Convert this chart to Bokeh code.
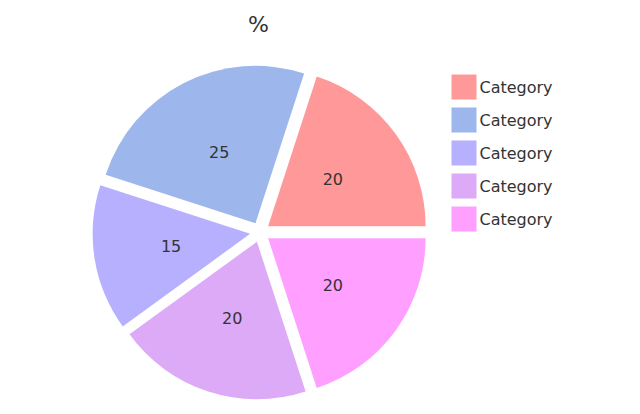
import math
from bokeh.plotting import figure
from bokeh.models import ColumnDataSource, Range1d
from bokeh.core.properties import value
from bokeh.embed import file_html
from bokeh.resources import INLINE

title_text = "%"
categories = ["Category", "Category", "Category", "Category", "Category"]
values = [20, 25, 15, 20, 20]
colors = ["#ff9999", "#9db7ec", "#b6b0ff", "#dcaaf7", "#ff9fff"]

W, H = 632, 406
cx, cy, R = 259.5, H - 231.75, 157.5
explode = 10
label_r = 90

total = sum(values)
starts, ends, xs, ys, lx, ly = [], [], [], [], [], []
acc = 0.0
for v in values:
    a0 = 2 * math.pi * acc / total
    acc += v
    a1 = 2 * math.pi * acc / total
    mid = (a0 + a1) / 2
    starts.append(a0)
    ends.append(a1)
    xs.append(cx + explode * math.cos(mid))
    ys.append(cy + explode * math.sin(mid))
    lx.append(cx + label_r * math.cos(mid))
    ly.append(cy + label_r * math.sin(mid))

src = ColumnDataSource(dict(x=xs, y=ys, start=starts, end=ends, color=colors,
                            lx=lx, ly=ly, label=[str(v) for v in values]))

p = figure(width=W, height=H, output_backend="svg", toolbar_location=None,
           x_range=Range1d(0, W), y_range=Range1d(0, H), min_border=0,
           x_axis_location=None, y_axis_location=None)
p.grid.visible = False
p.outline_line_color = None
p.background_fill_color = "white"

p.wedge(x="x", y="y", radius=R, start_angle="start", end_angle="end",
        direction="anticlock", fill_color="color", line_color=None, source=src)
p.text(x="lx", y="ly", text="label", source=src, text_align="center",
       text_baseline="middle", text_font=value("DejaVu Sans"),
       text_font_size="16px", text_color="#333333")

# legend
leg_x = 463.5
leg_y0 = H - 86.5
step = 33
ly_leg = [leg_y0 - i * step for i in range(len(categories))]
leg = ColumnDataSource(dict(x=[leg_x] * len(categories), y=ly_leg,
                            tx=[leg_x + 15.5] * len(categories),
                            color=colors, label=categories))
p.rect(x="x", y="y", width=25, height=25, fill_color="color", line_color=None, source=leg)
p.text(x="tx", y="y", text="label", source=leg, text_align="left",
       text_baseline="middle", text_font=value("DejaVu Sans"),
       text_font_size="16px", text_color="#333333")

# title
p.text(x=[258], y=[H - 24], text=[title_text], text_align="center",
       text_baseline="middle", text_font=value("DejaVu Sans"),
       text_font_size="22px", text_color="#333333")

open("out.html", "w").write(file_html(p, INLINE))
